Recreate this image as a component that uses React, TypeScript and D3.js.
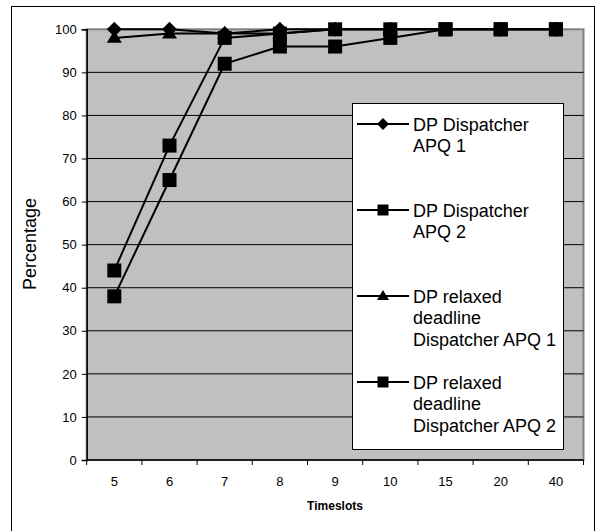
import React, { useEffect, useRef } from 'react';
import * as d3 from 'd3';

const timeslots = ['5', '6', '7', '8', '9', '10', '15', '20', '40'];
const yTicks = [0, 10, 20, 30, 40, 50, 60, 70, 80, 90, 100];

const dpApq1 = [100, 100, 99, 100, 100, 100, 100, 100, 100];
const dpApq2 = [44, 73, 98, 99, 100, 100, 100, 100, 100];
const relaxedApq1 = [98, 99, 99, 99, 100, 100, 100, 100, 100];
const relaxedApq2 = [38, 65, 92, 96, 96, 98, 100, 100, 100];

const seriesNames = [
  ['DP Dispatcher', 'APQ 1'],
  ['DP Dispatcher', 'APQ 2'],
  ['DP relaxed', 'deadline', 'Dispatcher APQ 1'],
  ['DP relaxed', 'deadline', 'Dispatcher APQ 2'],
];
const seriesMarkers = ['diamond', 'square', 'triangle', 'square'];

const FONT = '"Liberation Sans", Arial, sans-serif';

// marker outline centred on 0,0; s = full width
const markerPath = (kind: string, s: number) => {
  const h = s / 2;
  const p = d3.path();
  if (kind === 'diamond') {
    p.moveTo(0, -h); p.lineTo(h, 0); p.lineTo(0, h); p.lineTo(-h, 0);
  } else if (kind === 'triangle') {
    const th = s * 0.82;
    p.moveTo(0, -th * 0.6); p.lineTo(h, th * 0.4); p.lineTo(-h, th * 0.4);
  } else {
    p.rect(-h, -h, s, s);
  }
  p.closePath();
  return p.toString();
};

const App: React.FC = () => {
  const svgRef = useRef<SVGSVGElement>(null);

  useEffect(() => {
    if (!svgRef.current) return;
    const svg = d3.select(svgRef.current);
    svg.selectAll('*').remove();

    const plot = { left: 86.7, right: 583.5, top: 29.3, bottom: 460 };

    const x = d3.scaleBand<string>().domain(timeslots).range([plot.left, plot.right]);
    const y = d3.scaleLinear().domain([0, 100]).range([plot.bottom, plot.top]);

    // outer frame
    svg.append('rect')
      .attr('x', 11.5).attr('y', 6.5)
      .attr('width', 583).attr('height', 540)
      .attr('fill', 'white').attr('stroke', 'black').attr('stroke-width', 1);

    // plot area
    svg.append('rect')
      .attr('x', plot.left).attr('y', plot.top)
      .attr('width', plot.right - plot.left).attr('height', plot.bottom - plot.top)
      .attr('fill', '#c0c0c0').attr('stroke', '#808080').attr('stroke-width', 2);

    // gridlines
    svg.append('g').selectAll('line')
      .data(yTicks.filter(t => t > 0 && t < 100))
      .enter().append('line')
      .attr('x1', plot.left).attr('x2', plot.right)
      .attr('y1', d => y(d)).attr('y2', d => y(d))
      .attr('stroke', 'black').attr('stroke-width', 1);

    // y axis
    const yAxis = svg.append('g')
      .attr('transform', `translate(${plot.left},0)`)
      .call(d3.axisLeft(y).tickValues(yTicks).tickSize(5).tickPadding(5));
    yAxis.select('.domain').attr('stroke', 'black').attr('stroke-width', 1.5);
    yAxis.selectAll('text').attr('font-family', FONT).attr('font-size', 13).attr('fill', 'black');

    // x axis
    const tickPos = timeslots.map(t => x(t) as number).concat([plot.right]);
    const xg = svg.append('g');
    xg.append('line')
      .attr('x1', plot.left).attr('x2', plot.right)
      .attr('y1', plot.bottom).attr('y2', plot.bottom)
      .attr('stroke', 'black').attr('stroke-width', 1.5);
    xg.selectAll('.tk').data(tickPos).enter().append('line')
      .attr('x1', d => d).attr('x2', d => d)
      .attr('y1', plot.bottom).attr('y2', plot.bottom + 5)
      .attr('stroke', 'black').attr('stroke-width', 1);
    xg.selectAll('text').data(timeslots).enter().append('text')
      .attr('x', d => (x(d) as number) + x.bandwidth() / 2)
      .attr('y', 486)
      .attr('text-anchor', 'middle')
      .attr('font-family', FONT).attr('font-size', 13)
      .text(d => d);

    // axis titles
    svg.append('text')
      .attr('x', 335).attr('y', 510)
      .attr('text-anchor', 'middle')
      .attr('font-family', FONT).attr('font-size', 12).attr('font-weight', 'bold')
      .text('Timeslots');
    svg.append('text')
      .attr('transform', 'translate(36,244) rotate(-90)')
      .attr('text-anchor', 'middle')
      .attr('font-family', FONT).attr('font-size', 18)
      .text('Percentage');

    const allSeries = [dpApq1, dpApq2, relaxedApq1, relaxedApq2];
    const cx = (i: number) => (x(timeslots[i]) as number) + x.bandwidth() / 2;
    const line = d3.line<number>().x((_, i) => cx(i)).y(d => y(d));

    allSeries.forEach(values => {
      svg.append('path')
        .attr('d', line(values))
        .attr('fill', 'none').attr('stroke', 'black').attr('stroke-width', 2);
    });
    allSeries.forEach((values, si) => {
      const size = seriesMarkers[si] === 'square' ? 14 : 15;
      svg.append('g').selectAll('path')
        .data(values).enter().append('path')
        .attr('transform', (d, i) => `translate(${cx(i)},${y(d)})`)
        .attr('d', markerPath(seriesMarkers[si], size))
        .attr('fill', 'black');
    });

    // legend
    const legend = svg.append('g');
    legend.append('rect')
      .attr('x', 352.5).attr('y', 103.5).attr('width', 211).attr('height', 346)
      .attr('fill', 'white').attr('stroke', 'black').attr('stroke-width', 1);
    const entryY = d3.scaleLinear().domain([0, 3]).range([124, 382]);
    seriesNames.forEach((lines, si) => {
      const ly = entryY(si);
      legend.append('line')
        .attr('x1', 357).attr('x2', 409).attr('y1', ly).attr('y2', ly)
        .attr('stroke', 'black').attr('stroke-width', 2);
      legend.append('path')
        .attr('transform', `translate(383,${ly})`)
        .attr('d', markerPath(seriesMarkers[si], seriesMarkers[si] === 'square' ? 11 : 12))
        .attr('fill', 'black');
      const t = legend.append('text')
        .attr('font-family', FONT).attr('font-size', 18);
      lines.forEach((s, li) => {
        t.append('tspan').attr('x', 413).attr('y', ly + 6.5 + li * 21.5).text(s);
      });
    });
  }, []);

  return (
    <svg ref={svgRef} width={602} height={531}
      style={{ position: 'absolute', left: 0, top: 0, background: 'white' }} />
  );
};

export default App;
